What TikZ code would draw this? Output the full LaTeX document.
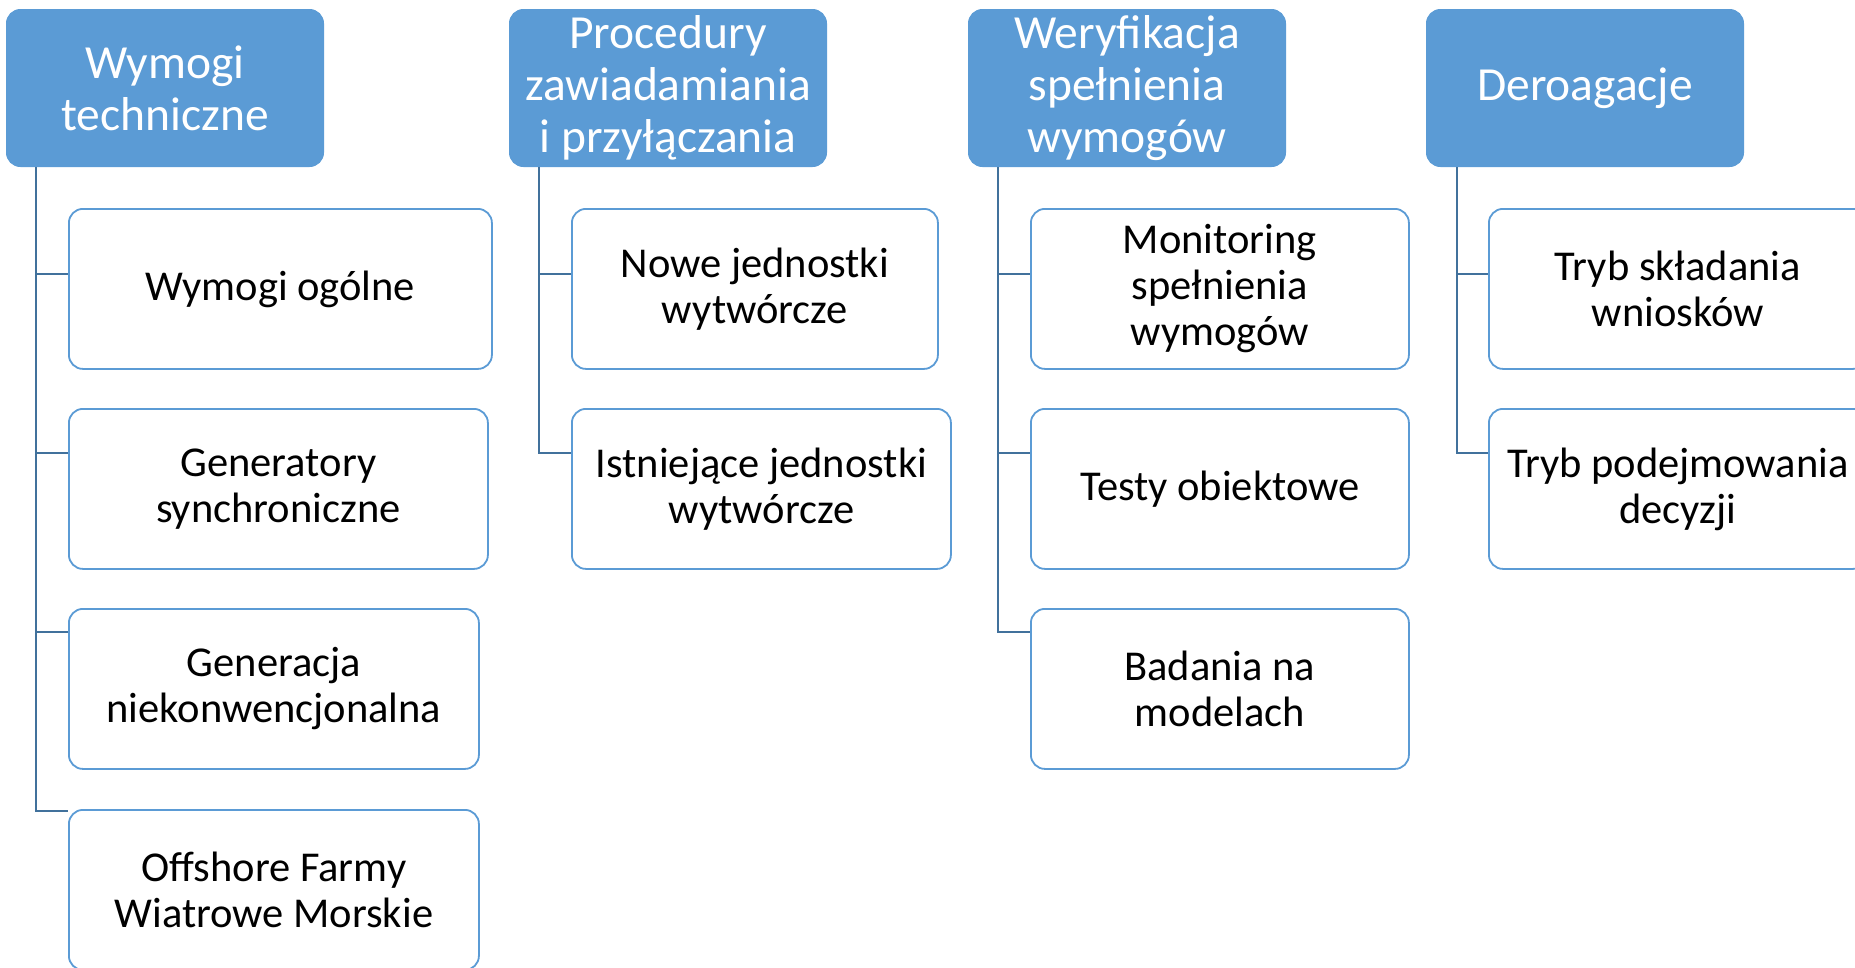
\documentclass[tikz,border=0pt]{standalone}
\usepackage{fontspec}
\setmainfont{Carlito}
\definecolor{hdr}{HTML}{5B9BD5}
\definecolor{connc}{HTML}{41719C}
\begin{document}
\begin{tikzpicture}[x=1pt,y=-1pt,
  hdrbox/.style={draw=hdr, fill=hdr, line width=1pt, rounded corners=14pt, text=white,
    font=\fontsize{47.5}{52}\selectfont, align=center, inner sep=0pt, anchor=north west,
    minimum width=317pt, minimum height=157pt},
  childbox/.style={draw=hdr, line width=1.8pt, fill=white, rounded corners=14pt,
    font=\fontsize{42.5}{46}\selectfont, align=center, inner sep=0pt, anchor=north west,
    minimum height=160pt},
  connline/.style={draw=connc, line width=2.2pt}]
\useasboundingbox (0,0) rectangle (1855,967);

% headers
\node[hdrbox] (h1) at (6,9) {Wymogi\\techniczne};
\node[hdrbox] (h2) at (509,9) {Procedury\\zawiadamiania\\i przyłączania};
\node[hdrbox] (h3) at (968,9) {Weryfikacja\\spełnienia\\wymogów};
\node[hdrbox] (h4) at (1426,9) {Deroagacje};

% children
\node[childbox, minimum width=423pt] (c1a) at (68,208) {Wymogi ogólne};
\node[childbox, minimum width=419pt] (c1b) at (68,408) {Generatory\\synchroniczne};
\node[childbox, minimum width=410pt] (c1c) at (68,608) {Generacja\\niekonwencjonalna};
\node[childbox, minimum width=410pt] (c1d) at (68,809) {Offshore Farmy\\Wiatrowe Morskie};

\node[childbox, minimum width=366pt] (c2a) at (571,208) {Nowe jednostki\\wytwórcze};
\node[childbox, minimum width=379pt] (c2b) at (571,408) {Istniejące jednostki\\wytwórcze};

\node[childbox, minimum width=378pt] (c3a) at (1030,208) {Monitoring\\spełnienia\\wymogów};
\node[childbox, minimum width=378pt] (c3b) at (1030,408) {Testy obiektowe};
\node[childbox, minimum width=378pt] (c3c) at (1030,608) {Badania na\\modelach};

\node[childbox, minimum width=378pt] (c4a) at (1488,208) {Tryb składania\\wniosków};
\node[childbox, minimum width=378pt] (c4b) at (1488,408) {Tryb podejmowania\\decyzji};

% branch rows and trunk positions
\coordinate (r1) at (0,274);
\coordinate (r2) at (0,453);
\coordinate (r3) at (0,632);
\coordinate (r4) at (0,811);
\coordinate (t1) at (36,0);
\coordinate (t2) at (539,0);
\coordinate (t3) at (998,0);
\coordinate (t4) at (1457,0);

% connectors
\draw[connline] (h1.south -| t1) |- (c1a.west |- r1);
\draw[connline] (h1.south -| t1) |- (c1b.west |- r2);
\draw[connline] (h1.south -| t1) |- (c1c.west |- r3);
\draw[connline] (h1.south -| t1) |- (c1d.west |- r4);

\draw[connline] (h2.south -| t2) |- (c2a.west |- r1);
\draw[connline] (h2.south -| t2) |- (c2b.west |- r2);

\draw[connline] (h3.south -| t3) |- (c3a.west |- r1);
\draw[connline] (h3.south -| t3) |- (c3b.west |- r2);
\draw[connline] (h3.south -| t3) |- (c3c.west |- r3);

\draw[connline] (h4.south -| t4) |- (c4a.west |- r1);
\draw[connline] (h4.south -| t4) |- (c4b.west |- r2);
\end{tikzpicture}
\end{document}
